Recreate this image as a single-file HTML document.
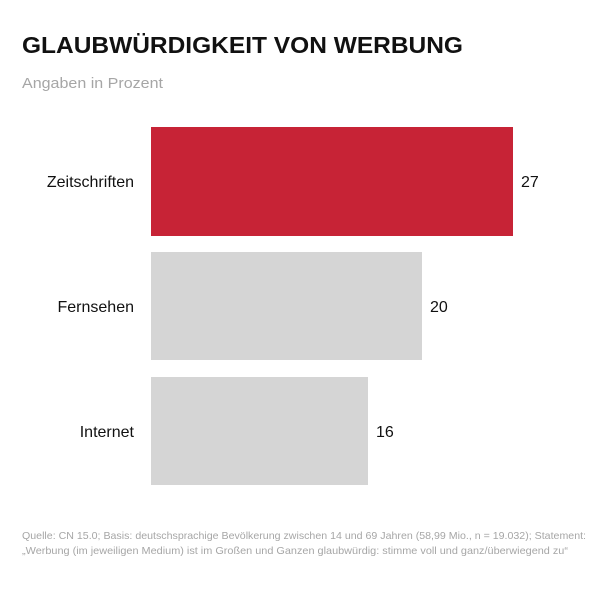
<!DOCTYPE html>
<html><head><meta charset="utf-8"><style>html,body{margin:0;padding:0;background:#fff}</style></head>
<body>
<svg width="600" height="600" xmlns="http://www.w3.org/2000/svg" font-family="Liberation Sans, sans-serif">
<rect width="600" height="600" fill="#fff"/>
<text x="22" y="53" font-size="23" font-weight="bold" fill="#111" textLength="441" lengthAdjust="spacingAndGlyphs">GLAUBWÜRDIGKEIT VON WERBUNG</text>
<text x="22" y="88" font-size="15" fill="#a6a6a6" textLength="141" lengthAdjust="spacingAndGlyphs">Angaben in Prozent</text>
<rect x="151" y="127" width="362" height="109" fill="#c72336"/>
<rect x="151" y="252" width="271" height="108" fill="#d5d5d5"/>
<rect x="151" y="377" width="217" height="108" fill="#d5d5d5"/>
<g font-size="16" fill="#111">
<text x="134" y="187" text-anchor="end">Zeitschriften</text>
<text x="134" y="312" text-anchor="end">Fernsehen</text>
<text x="134" y="437" text-anchor="end">Internet</text>
<text x="521" y="187">27</text>
<text x="430" y="312">20</text>
<text x="376" y="437">16</text>
</g>
<g font-size="10.5" fill="#a6a6a6">
<text x="22" y="539" textLength="564" lengthAdjust="spacingAndGlyphs">Quelle: CN 15.0; Basis: deutschsprachige Bevölkerung zwischen 14 und 69 Jahren (58,99 Mio., n = 19.032); Statement:</text>
<text x="22" y="554" textLength="546" lengthAdjust="spacingAndGlyphs">„Werbung (im jeweiligen Medium) ist im Großen und Ganzen glaubwürdig: stimme voll und ganz/überwiegend zu“</text>
</g>
</svg>
</body></html>
